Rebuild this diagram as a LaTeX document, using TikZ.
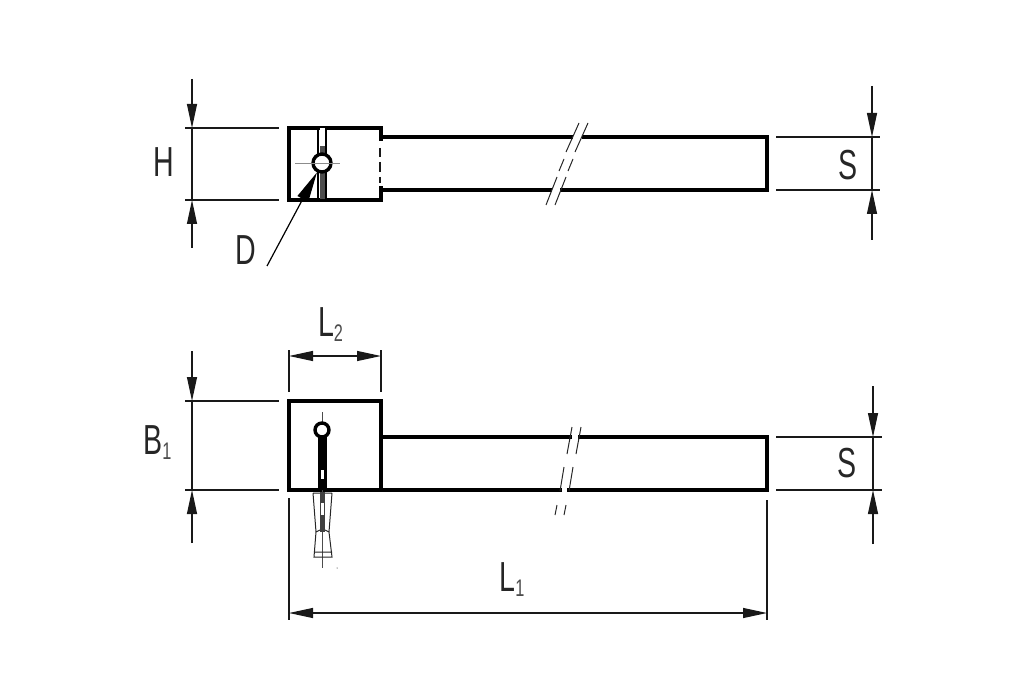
\documentclass[tikz,border=0pt]{standalone}
\usepackage{fontspec}
\setmainfont{Liberation Sans}
\usetikzlibrary{arrows.meta}
\tikzset{
  outline/.style={line width=3.6pt,line cap=butt},
  thinline/.style={line width=1.2pt,black!90},
  centerline/.style={line width=0.8pt,black!45},
  breakline/.style={line width=1pt,black!85},
  dimlabel/.style={inner sep=0pt,xscale=0.68,transform shape,text=black!85,font=\fontsize{42}{42}\selectfont},
}
\newcommand{\sublabel}[2]{#1\raisebox{-5pt}{\fontsize{24}{24}\selectfont\color{black!70} #2}}
\begin{document}
\begin{tikzpicture}[x=1pt,y=-1pt,>={Triangle[length=24pt,width=10pt]},line join=miter]
	\useasboundingbox (0,0) rectangle (1024,700);
	% named points of the upper view
	\coordinate (htop) at (192,128);
	\coordinate (hbot) at (192,200);
	\coordinate (hfreea) at (192,79);
	\coordinate (hfreeb) at (192,248);
	\coordinate (stop) at (872,137);
	\coordinate (sbot) at (872,190);
	\coordinate (sfreea) at (872,86);
	\coordinate (sfreeb) at (872,240);
	% upper view
	\draw[outline] (289,128) rectangle (381,200);
	\fill[white] (378,141) rectangle (384,186);
	\draw[thinline,line width=1.8pt] (380,148)--(380,157) (380,162)--(380,172) (380,177)--(380,183);
	\draw[outline] (381,137)--(573,137) (582,137)--(767,137)--(767,190)--(560,190) (552,190)--(381,190);
	\fill[black!70] (320,130) rectangle (325,199);
	\fill[white] (320,128) rectangle (325,146);
	\draw[line width=2.6pt] (318,128)--(318,200) (326,128)--(326,200);
	\node[circle,draw,line width=3.4pt,fill=white,minimum size=18pt,inner sep=0pt] (holetop) at (322,163) {};
	\draw[centerline] (295,163)--(340,163);
	\foreach \dx in {0,9} {
		\draw[breakline,shift={(\dx,0)}] (579,123)--(566,152) (564,159)--(559,171) (557,177)--(546,205);
	}
	% dimensions H and S, upper view
	\draw[thinline] (185,128)--(279,128) (185,200)--(279,200);
	\draw[thinline] (776,137)--(880,137) (776,190)--(880,190);
	\draw[thinline] (htop)--(hbot) (stop)--(sbot);
	\draw[thinline,->] (hfreea)--(htop);
	\draw[thinline,->] (hfreeb)--(hbot);
	\draw[thinline,->] (sfreea)--(stop);
	\draw[thinline,->] (sfreeb)--(sbot);
	\node[dimlabel] (labelh) at (163.5,162) {H};
	\node[dimlabel] (labels) at (848,165) {S};
	\node[dimlabel] (labeld) at (246,250) {D};
	\draw[line width=1.2pt,-{Triangle[length=30pt,width=12pt]}] (267,266)--(holetop);
	% named points of the lower view
	\coordinate (btop) at (192,401);
	\coordinate (bbot) at (192,490);
	\coordinate (bfreea) at (192,351);
	\coordinate (bfreeb) at (192,543);
	\coordinate (stopb) at (873,437);
	\coordinate (sbotb) at (873,490);
	\coordinate (sfreec) at (873,386);
	\coordinate (sfreed) at (873,544);
	\coordinate (ltwoa) at (289,356);
	\coordinate (ltwob) at (381,356);
	\coordinate (lonea) at (289,613);
	\coordinate (loneb) at (767,613);
	% lower view
	\draw[outline] (289,401) rectangle (381,490);
	\draw[outline] (381,437)--(572,437) (578,437)--(767,437)--(767,490)--(567,490) (562,490)--(381,490);
	\draw[centerline,black!70] (322,412)--(322,568);
	\fill (318,436) rectangle (327,490);
	\fill[white] (321,470) rectangle (324,479);
	\node[circle,draw,line width=3.4pt,fill=white,minimum size=14pt,inner sep=0pt] (holebot) at (322,430) {};
	% pin under the lower view
	\draw[line width=1pt,black!85] (313,493)--(332,493) (313,493)--(316,532)--(314,557)--(332,557)--(329,532)--(332,493) (314,552)--(332,552) (316,532)--(320,530) (329,532)--(325,530);
	\fill[black!75] (320,492) rectangle (325,532);
	\fill[white] (321,503) rectangle (324,515);
	\fill (337,568) circle (0.5pt);
	\foreach \dx in {0,9} {
		\draw[breakline,shift={(\dx,0)}] (572,427)--(567,454) (564,467)--(560,491) (557,505)--(555,515);
	}
	% dimensions of the lower view
	\draw[thinline] (185,401)--(279,401) (185,490)--(279,490);
	\draw[thinline] (776,437)--(882,437) (776,490)--(882,490);
	\draw[thinline] (btop)--(bbot) (stopb)--(sbotb);
	\draw[thinline,->] (bfreea)--(btop);
	\draw[thinline,->] (bfreeb)--(bbot);
	\draw[thinline,->] (sfreec)--(stopb);
	\draw[thinline,->] (sfreed)--(sbotb);
	\draw[thinline] (289,350)--(289,392) (381,350)--(381,392);
	\draw[thinline] (289,498)--(289,620) (767,500)--(767,620);
	\draw[thinline,<->] (ltwoa)--(ltwob);
	\draw[thinline,<->] (lonea)--(loneb);
	\node[dimlabel] (labelltwo) at (330.5,324.5) {\sublabel{L}{2}};
	\node[dimlabel] (labelb) at (157.5,442.5) {\sublabel{B}{1}};
	\node[dimlabel] (labelsb) at (847,463) {S};
	\node[dimlabel] (labellone) at (512,579.5) {\sublabel{L}{1}};
\end{tikzpicture}
\end{document}
